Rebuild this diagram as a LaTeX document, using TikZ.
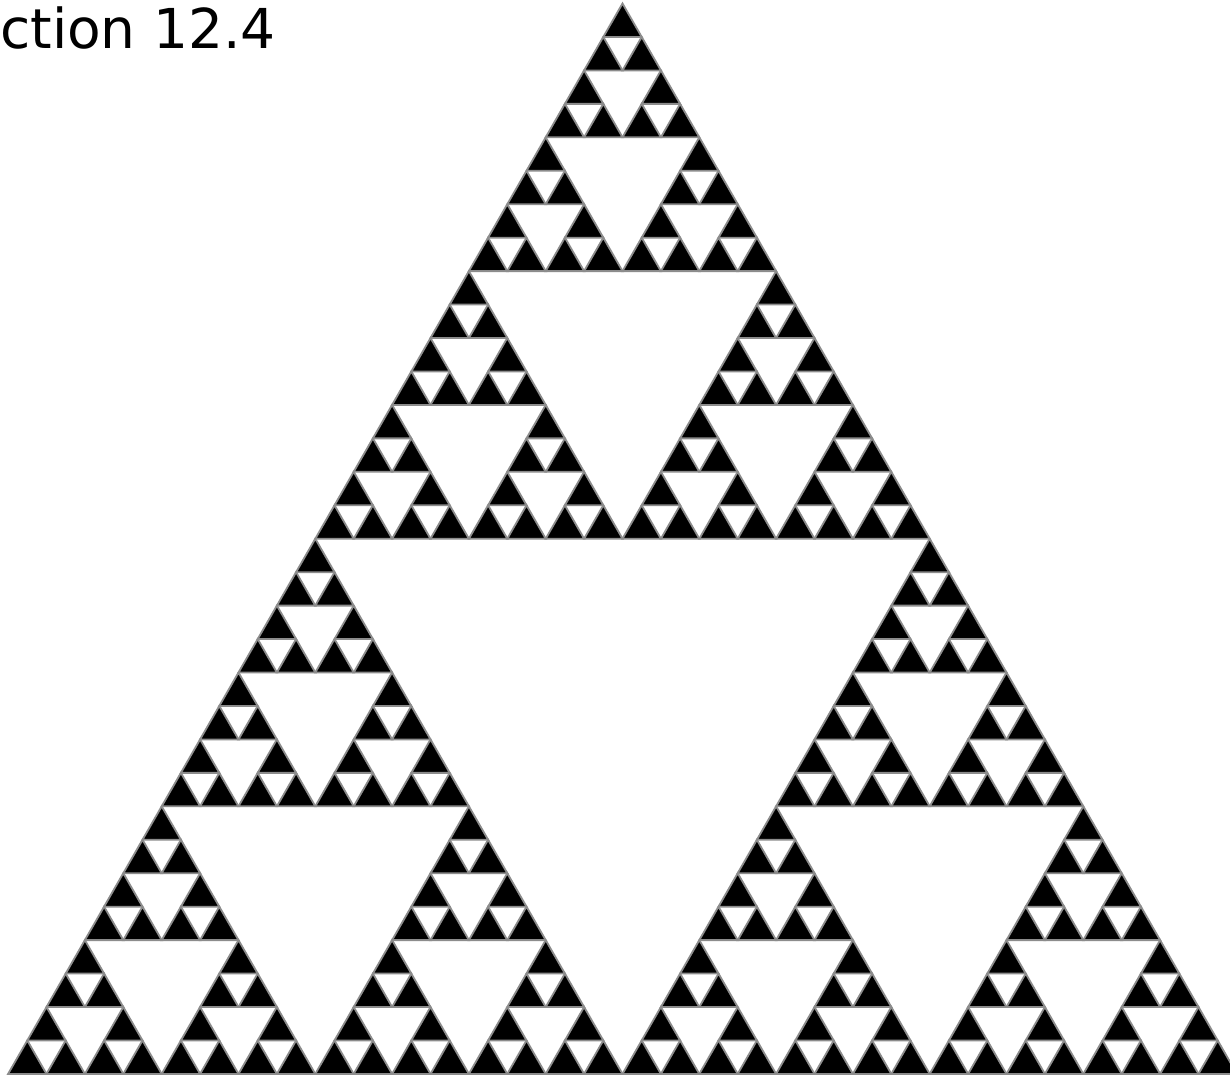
\documentclass[tikz,border=0pt]{standalone}
\usepackage{fontspec}
\newfontfamily\titlefont{DejaVu Sans}
\usepackage{tikz}
\tikzset{
    sierpblack/.style={fill=black, draw=black!45, line width=1.8pt, line join=miter},
    sierptitle/.style={font=\titlefont\fontsize{55}{60}\selectfont, inner sep=0pt, anchor=base west}
}
\begin{document}
\begin{tikzpicture}[x=1pt, y=-1pt]
    \useasboundingbox (0,0) rectangle (1230,1077);
    \clip (0,0) rectangle (1230,1077);
    \fill[white] (0,0) rectangle (1230,1077);
    \begin{scope}[shift={(622.5,3.5)}, x=19.2pt, y=-33.45pt]
        \foreach \pa/\qa in {0/0,-1/1,1/1}
        \foreach \pb/\qb in {0/0,-1/1,1/1}
        \foreach \pc/\qc in {0/0,-1/1,1/1}
        \foreach \pd/\qd in {0/0,-1/1,1/1}
        \foreach \pe/\qe in {0/0,-1/1,1/1}
            \path[sierpblack] ({16*\pa+8*\pb+4*\pc+2*\pd+\pe},{16*\qa+8*\qb+4*\qc+2*\qd+\qe})
                -- ++(-1,1) -- ++(2,0) -- cycle;
    \end{scope}
    \node[sierptitle] (title) at (0,48) {ction 12.4};
\end{tikzpicture}
\end{document}
